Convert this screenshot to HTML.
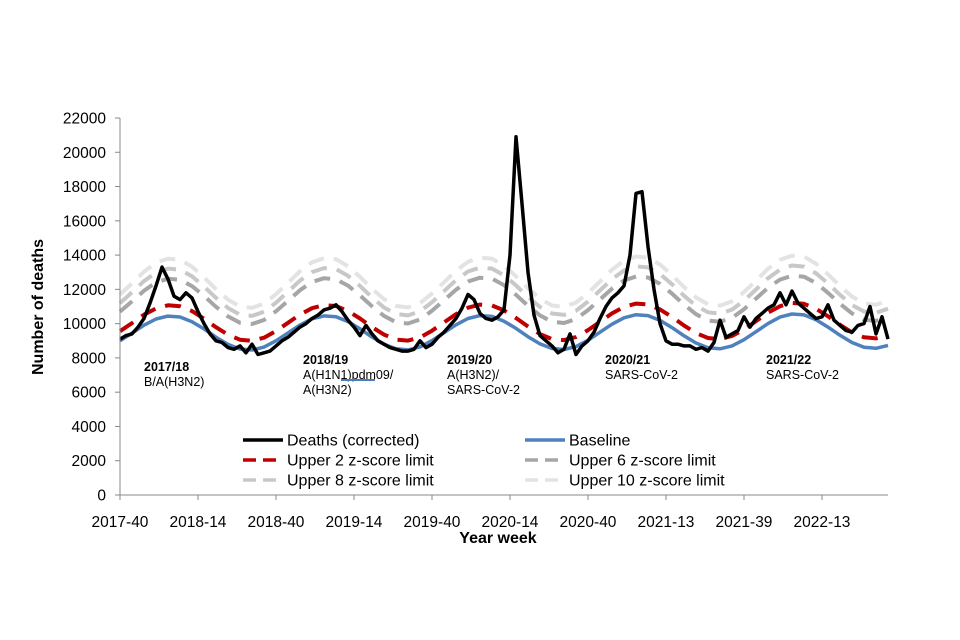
<!DOCTYPE html>
<html><head><meta charset="utf-8"><style>
body{margin:0;background:#fff;}
svg{display:block;font-family:"Liberation Sans",Arial,sans-serif;}
</style></head><body>
<svg id="chart" width="960" height="640">
<g id="grid"></g>
<g id="series"></g>
<g id="axes"></g>
<g id="annot" font-size="12.5" fill="#000">
<text x="144" y="371" font-weight="bold">2017/18</text>
<text x="144" y="386">B/A(H3N2)</text>
<text x="303" y="364" font-weight="bold">2018/19</text>
<text x="303" y="379">A(H1N1)pdm09/</text>
<text x="303" y="394">A(H3N2)</text>
<line x1="341" y1="380" x2="375" y2="380" stroke="#4a7ebb" stroke-width="2"/>
<text x="447" y="364" font-weight="bold">2019/20</text>
<text x="447" y="379">A(H3N2)/</text>
<text x="447" y="394">SARS-CoV-2</text>
<text x="605" y="364" font-weight="bold">2020/21</text>
<text x="605" y="379">SARS-CoV-2</text>
<text x="766" y="364" font-weight="bold">2021/22</text>
<text x="766" y="379">SARS-CoV-2</text>
</g>
<g id="legend" font-size="16"></g>
<text x="498" y="543" font-size="16" font-weight="bold" text-anchor="middle">Year week</text>
<text transform="translate(43,307) rotate(-90)" font-size="16" font-weight="bold" text-anchor="middle">Number of deaths</text>
</svg>
<script>
const xTickLabels = ["2017-40","2018-14","2018-40","2019-14","2019-40","2020-14","2020-40","2021-13","2021-39","2022-13"];
const xTickWeeks = [0,26,52,78,104,130,156,182,208,234];
const yTicks = [0,2000,4000,6000,8000,10000,12000,14000,16000,18000,20000,22000];
// deaths: every 2 weeks from week 0
const deaths = [9100,9300,9400,9800,10300,11200,12200,13300,12600,11600,11400,11800,11500,10700,10000,9400,9000,8900,8600,8500,8700,8300,8800,8200,8300,8400,8700,9000,9200,9500,9800,10000,10300,10500,10800,10900,11100,10700,10200,9800,9300,9900,9400,9000,8800,8600,8500,8400,8400,8500,9000,8600,8800,9200,9500,9900,10300,10900,11700,11400,10600,10300,10200,10400,10800,14000,20900,17000,13000,10500,9300,9000,8700,8300,8500,9400,8200,8700,9000,9500,10300,11000,11500,11800,12200,14000,17600,17700,14500,12000,10000,9000,8800,8800,8700,8700,8500,8600,8400,8900,10200,9200,9400,9600,10400,9800,10300,10600,10900,11100,11800,11100,11900,11200,10900,10600,10300,10400,11100,10200,9900,9600,9500,9900,10000,11000,9400,10400,9100];
// smooth lines: every 4 weeks from week 0
const baseline = [9000,9450,9910,10270,10440,10390,10110,9690,9210,8790,8520,8460,8630,9000,9460,9920,10280,10450,10400,10120,9700,9220,8800,8530,8470,8640,9010,9470,9930,10300,10470,10420,10140,9720,9240,8820,8550,8490,8660,9030,9500,9970,10340,10520,10470,10190,9770,9290,8870,8590,8530,8700,9060,9530,10000,10380,10560,10510,10230,9800,9320,8900,8620,8560,8730];
const upper2 = [9560,10030,10520,10890,11070,11020,10730,10290,9790,9350,9060,9000,9180,9570,10050,10530,10900,11080,11030,10740,10300,9800,9360,9070,9010,9190,9590,10070,10550,10930,11110,11060,10770,10330,9830,9390,9100,9040,9220,9620,10110,10600,10980,11170,11120,10830,10390,9890,9450,9160,9100,9280,9660,10150,10640,11020,11210,11160,10870,10430,9930,9490,9200,9140,9320];
const upper6 = [10700,11300,11920,12400,12620,12560,12190,11620,10980,10420,10050,9980,10210,10720,11330,11950,12430,12650,12590,12220,11650,11010,10450,10080,10010,10240,10750,11360,11980,12460,12680,12620,12250,11680,11040,10480,10110,10040,10270,10790,11410,12040,12520,12750,12690,12320,11750,11110,10550,10180,10110,10340,10840,11460,12090,12570,12800,12740,12370,11800,11160,10600,10230,10160,10390];
const upper8 = [11200,11830,12480,12980,13210,13150,12760,12170,11500,10910,10530,10450,10690,11220,11860,12510,13010,13240,13180,12790,12200,11530,10940,10560,10480,10720,11250,11890,12540,13040,13270,13210,12820,12230,11560,10970,10590,10510,10750,11290,11940,12600,13100,13340,13280,12890,12300,11630,11040,10660,10580,10820,11340,11990,12650,13150,13390,13330,12940,12350,11680,11090,10710,10630,10870];
const upper10 = [11700,12350,13030,13550,13790,13730,13320,12700,12010,11400,11000,10920,11170,11720,12380,13060,13580,13820,13760,13350,12730,12040,11430,11030,10950,11200,11750,12410,13090,13610,13850,13790,13380,12760,12070,11460,11060,10980,11230,11790,12460,13150,13670,13920,13860,13450,12830,12140,11530,11130,11050,11300,11840,12510,13200,13720,13970,13910,13500,12880,12190,11580,11180,11100,11350];

const X0=120, Y0=495, PXW=3, YPX=377/22000;
const xw = w => X0 + w*PXW;
const yv = v => Y0 - v*YPX;
const NS="http://www.w3.org/2000/svg";
function mk(tag, attrs, parent){const e=document.createElementNS(NS,tag);for(const k in attrs)e.setAttribute(k,attrs[k]);parent.appendChild(e);return e;}
const axes=document.getElementById('axes'), series=document.getElementById('series'), legend=document.getElementById('legend');

function pathFor(arr, step){return arr.map((v,i)=>(i?'L':'M')+xw(i*step).toFixed(1)+','+yv(v).toFixed(1)).join(' ');}
const lines=[
 {arr:upper10,step:4,color:'#e3e3e3',dash:'16 10',w:4,name:'upper-10-zscore-line'},
 {arr:upper8,step:4,color:'#c8c8c8',dash:'16 10',w:4,name:'upper-8-zscore-line'},
 {arr:upper6,step:4,color:'#a6a6a6',dash:'16 10',w:4,name:'upper-6-zscore-line'},
 {arr:baseline,step:4,color:'#4f81bd',dash:'',w:3.5,name:'baseline-line'},
 {arr:upper2,step:4,color:'#c00000',dash:'16 10',w:4,name:'upper-2-zscore-line'},
 {arr:deaths,step:2,color:'#000',dash:'',w:3.5,name:'deaths-corrected-line'}
];
lines.forEach(l=>{
 const p=mk('path',{d:pathFor(l.arr,l.step),fill:'none',stroke:l.color,'stroke-width':l.w,'stroke-dasharray':l.dash,'stroke-linejoin':'round'},series);
 
 
});

const ya=mk('line',{x1:X0,y1:yv(22000),x2:X0,y2:Y0,stroke:'#888','stroke-width':1},axes);


const xa=mk('line',{x1:X0,y1:Y0,x2:888,y2:Y0,stroke:'#888','stroke-width':1},axes);


yTicks.forEach(v=>{
 mk('line',{x1:X0-5,y1:yv(v),x2:X0,y2:yv(v),stroke:'#888'},axes);
 const t=mk('text',{x:X0-14,y:yv(v)+5.5,'text-anchor':'end','font-size':'15.5'},axes);
 t.textContent=v;
 
 
});
xTickWeeks.forEach((w,i)=>{
 mk('line',{x1:xw(w),y1:Y0,x2:xw(w),y2:Y0+5,stroke:'#888'},axes);
 const t=mk('text',{x:xw(w),y:Y0+32,'text-anchor':'middle','font-size':'15.5'},axes);
 t.textContent=xTickLabels[i];
 
 
});

const legItems=[
 {label:'Deaths (corrected)',color:'#000',dash:'',x:243,y:440},
 {label:'Baseline',color:'#4f81bd',dash:'',x:525,y:440},
 {label:'Upper 2 z-score limit',color:'#c00000',dash:'13 7',x:243,y:460},
 {label:'Upper 6 z-score limit',color:'#a6a6a6',dash:'13 7',x:525,y:460},
 {label:'Upper 8 z-score limit',color:'#c8c8c8',dash:'13 7',x:243,y:480},
 {label:'Upper 10 z-score limit',color:'#e3e3e3',dash:'13 7',x:525,y:480}
];
legItems.forEach(it=>{
 const g=mk('g',{},legend);
 
 
 mk('line',{x1:it.x,y1:it.y,x2:it.x+40,y2:it.y,stroke:it.color,'stroke-width':3.5,'stroke-dasharray':it.dash},g);
 const t=mk('text',{x:it.x+44,y:it.y+5.5},g);
 t.textContent=it.label;
});
</script>
</body></html>
